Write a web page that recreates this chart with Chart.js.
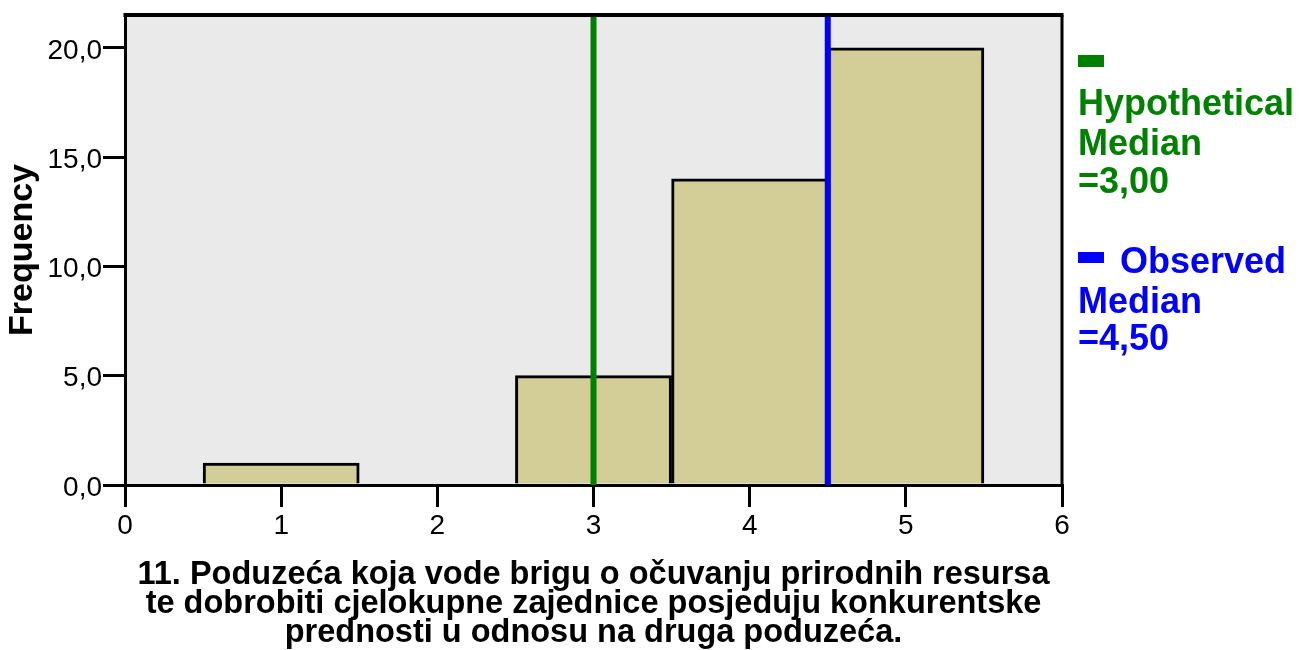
<!DOCTYPE html>
<html>
<head>
<meta charset="utf-8">
<script src="https://cdn.jsdelivr.net/npm/chart.js@4"></script>
<style>
  body { margin: 0; background: #fff; }
  #wrap { width: 1313px; height: 650px; position: relative; }
</style>
</head>
<body>
<div id="wrap"><canvas id="histChart"></canvas></div>
<script>
// histogram data
const binCenters = [1, 3, 4, 5];
const frequencies = [1, 5, 14, 20];
const hypotheticalMedian = 3.0;
const observedMedian = 4.5;
const xTicks = [0, 1, 2, 3, 4, 5, 6];
const yTicks = [0, 5, 10, 15, 20];
const xTitle = [
  '11. Poduzeća koja vode brigu o očuvanju prirodnih resursa',
  'te dobrobiti cjelokupne zajednice posjeduju konkurentske',
  'prednosti u odnosu na druga poduzeća.'
];
const legendItems = [
  { lines: ['Hypothetical', 'Median', '=3,00'], color: '#008000' },
  { lines: ['Observed', 'Median', '=4,50'], color: '#0000ff' }
];

const fmt = v => v.toFixed(1).replace('.', ',');

const plotBackground = {
  id: 'plotBackground',
  beforeDraw(chart) {
    const { ctx, chartArea: a } = chart;
    ctx.save();
    ctx.fillStyle = '#eaeaea';
    ctx.fillRect(a.left, a.top, a.right - a.left, a.bottom - a.top);
    ctx.restore();
  }
};

const medianLines = {
  id: 'medianLines',
  afterDatasetsDraw(chart) {
    const { ctx, chartArea: a, scales } = chart;
    const lines = [
      [hypotheticalMedian, legendItems[0].color],
      [observedMedian, legendItems[1].color]
    ];
    ctx.save();
    ctx.lineWidth = 6;
    lines.forEach(([v, c]) => {
      const px = scales.x.getPixelForValue(v);
      ctx.strokeStyle = c;
      ctx.beginPath();
      ctx.moveTo(px, a.top);
      ctx.lineTo(px, a.bottom);
      ctx.stroke();
    });
    // frame top and right
    ctx.strokeStyle = '#000';
    ctx.lineWidth = 4;
    ctx.beginPath();
    ctx.moveTo(a.left - 1.5, a.top);
    ctx.lineTo(a.right + 1.5, a.top);
    ctx.stroke();
    ctx.lineWidth = 3;
    ctx.beginPath();
    ctx.moveTo(a.right, a.top);
    ctx.lineTo(a.right, a.bottom);
    ctx.stroke();
    ctx.restore();
  }
};

const sideLegend = {
  id: 'sideLegend',
  afterDraw(chart) {
    const { ctx } = chart;
    const x0 = chart.chartArea.right + 16;
    ctx.save();
    ctx.font = 'bold 36px "Liberation Sans", Arial, sans-serif';
    ctx.textBaseline = 'alphabetic';
    // green item: swatch on its own line
    let item = legendItems[0];
    ctx.fillStyle = item.color;
    ctx.fillRect(x0, 55, 26, 12);
    [115, 155, 193].forEach((y, i) => ctx.fillText(item.lines[i], x0, y));
    // blue item: swatch beside first line
    item = legendItems[1];
    ctx.fillStyle = item.color;
    ctx.fillRect(x0, 252, 26, 11);
    ctx.fillText(item.lines[0], x0 + 42, 273);
    [313, 350].forEach((y, i) => ctx.fillText(item.lines[i + 1], x0, y));
    ctx.restore();
  }
};

new Chart(document.getElementById('histChart'), {
  type: 'bar',
  data: {
    datasets: [{
      data: binCenters.map((x, i) => ({ x: x, y: frequencies[i] })),
      backgroundColor: '#d3ce98',
      borderColor: '#000',
      borderWidth: 3,
      barPercentage: 1,
      categoryPercentage: 1
    }]
  },
  options: {
    responsive: true,
    maintainAspectRatio: false,
    animation: false,
    layout: { padding: { top: 14, right: 251, left: 0, bottom: 0 } },
    plugins: {
      legend: { display: false },
      tooltip: { enabled: false }
    },
    scales: {
      x: {
        type: 'linear',
        min: xTicks[0],
        max: xTicks[xTicks.length - 1],
        offset: false,
        afterFit: s => { s.height = 165; },
        afterBuildTicks: s => { s.ticks = xTicks.map(v => ({ value: v })); },
        ticks: {
          color: '#000',
          padding: 2,
          maxRotation: 0,
          font: { family: '"Liberation Sans", Arial, sans-serif', size: 28 }
        },
        grid: { offset: false, drawOnChartArea: false, drawTicks: true, tickLength: 22, color: '#000', lineWidth: 3 },
        border: { display: true, color: '#000', width: 3 },
        title: {
          display: true,
          text: xTitle,
          color: '#000',
          padding: { top: 0, bottom: 3 },
          font: { family: '"Liberation Sans", Arial, sans-serif', size: 32.5, weight: 'bold', lineHeight: 0.89 }
        }
      },
      y: {
        min: 0,
        max: 21.5,
        afterFit: s => { s.width = 125; },
        afterBuildTicks: s => { s.ticks = yTicks.map(v => ({ value: v })); },
        ticks: {
          color: '#000',
          padding: 1,
          labelOffset: 3,
          callback: v => fmt(v),
          font: { family: '"Liberation Sans", Arial, sans-serif', size: 28, lineHeight: 1 }
        },
        grid: { drawOnChartArea: false, drawTicks: true, tickLength: 22, color: '#000', lineWidth: 3 },
        border: { display: true, color: '#000', width: 3 },
        title: {
          display: true,
          text: 'Frequency',
          color: '#000',
          padding: { top: 6, bottom: 0 },
          font: { family: '"Liberation Sans", Arial, sans-serif', size: 34, weight: 'bold', lineHeight: 1 }
        }
      }
    }
  },
  plugins: [plotBackground, medianLines, sideLegend]
});
</script>
</body>
</html>
